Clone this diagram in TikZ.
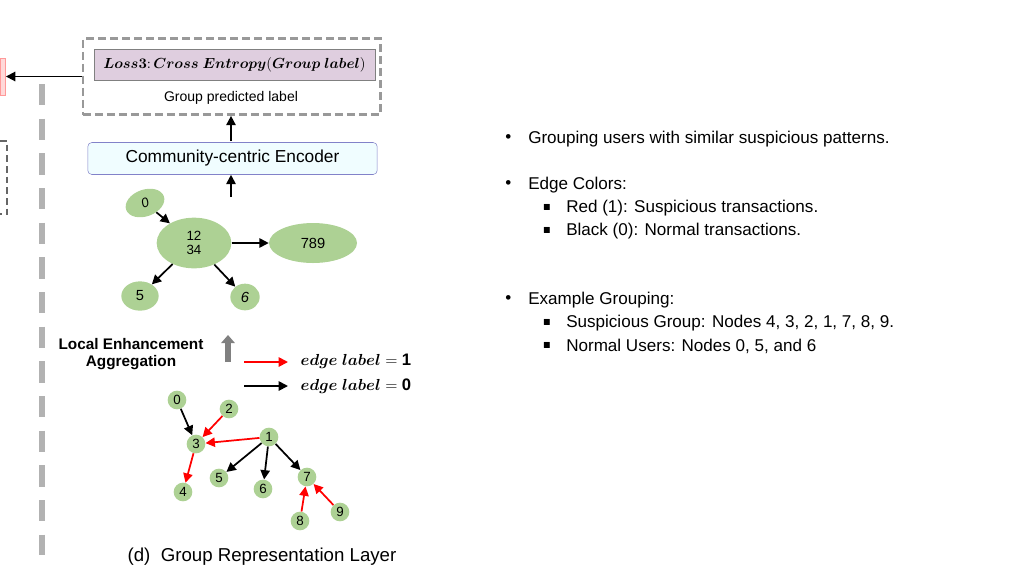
\documentclass[tikz,border=0pt]{standalone}
\usepackage{amsmath,amssymb}
\usepackage{fontspec}
\setmainfont{Liberation Sans}
\usetikzlibrary{arrows.meta,shapes.geometric}
\begin{document}
\begin{tikzpicture}[x=0.75pt,y=-0.75pt,
  ell/.style={ellipse,fill=green!45!lime!40!gray!60,draw=none,inner sep=0pt,font=\fontsize{10}{11}\selectfont},
  sn/.style={circle,fill=green!45!lime!40!gray!60,minimum size=14pt,inner sep=0pt,font=\fontsize{10}{10}\selectfont},
  ar/.style={-{Triangle[length=7pt,width=7pt]},line width=1.3pt},
  rar/.style={ar,red},
  txt/.style={anchor=west,font=\fontsize{12.8}{14}\selectfont,inner sep=0pt}]
\useasboundingbox (0,0) rectangle (1024,576);
% left remnants
\node[draw=red!40,fill=red!15,minimum width=4pt,minimum height=28pt,inner sep=0pt] (pk) at (3,76.5) {};
\draw[gray!60,line width=4pt,dash pattern=on 16pt off 10pt] (42,84) -- (42,555);
\draw[gray!80!black,line width=1.5pt,dash pattern=on 5pt off 3pt] (0,141) -- (7,141) -- (7,214) -- (0,214);
% top box
\node[draw=gray!80,line width=2pt,dash pattern=on 6pt off 3pt,minimum width=223pt,minimum height=57pt,inner sep=0pt] (db) at (231.5,76.5) {};
\node[draw=gray,fill=violet!15!white!88!gray,minimum width=211pt,minimum height=23pt,inner sep=0pt,font=\fontsize{11}{12}\selectfont] (loss) at (234.5,65) {$\boldsymbol{Loss3}\mathbf{:}\,\boldsymbol{Cross\ Entropy}\mathbf{(}\boldsymbol{Group\ label}\mathbf{)}$};
\node[font=\fontsize{10.5}{12}\selectfont] (gpl) at (231,98) {Group predicted label};
\draw[ar] (db.west) -- (pk.east);
\node[draw=blue!40!gray!70,fill=blue!10!cyan!6,rounded corners=3pt,minimum width=217pt,minimum height=24pt,inner sep=0pt,font=\fontsize{13}{14}\selectfont] (enc) at (232.5,158.5) {Community-centric Encoder};
\coordinate (e0) at (231,197);
\coordinate (e1) at (231,141);
\draw[ar] (e1) -- (e1 |- db.south);
\draw[ar] (e0) -- (e0 |- enc.south);
% community graph
\node[ell,minimum width=30pt,minimum height=20pt,rotate=20] (c0) at (145,203) {\itshape 0};
\node[ell,minimum width=56pt,minimum height=38pt,align=center] (c1) at (194,243) {12\\34};
\node[ell,minimum width=66pt,minimum height=30pt,font=\fontsize{11}{12}\selectfont] (c7) at (313,243) {789};
\node[ell,minimum width=28pt,minimum height=22pt,font=\fontsize{11}{12}\selectfont] (c5) at (140,296) {5};
\node[ell,minimum width=22pt,minimum height=20pt,font=\fontsize{11}{12}\selectfont] (c6) at (245,297) {\itshape 6};
\draw[ar] (c0) -- (c1);
\draw[ar] (c1) -- (c7);
\draw[ar] (c1) -- (c5);
\draw[ar] (c1) -- (c6);
% legend
\node[align=center,font=\bfseries\fontsize{11.5}{13}\selectfont] (lea) at (131,354) {Local Enhancement\\Aggregation};
\coordinate (ga) at (228,362); \coordinate (gb) at (228,335);
\draw[-{Triangle[length=6pt,width=10pt]},line width=5pt,gray] (ga) -- (gb);
\coordinate (l1a) at (244,362); \coordinate (l1b) at (288,362);
\coordinate (l0a) at (244,386); \coordinate (l0b) at (288,386);
\draw[rar] (l1a) -- (l1b);
\draw[ar] (l0a) -- (l0b);
\node[anchor=west,font=\fontsize{12.5}{14}\selectfont] (t1) at (296,361) {$\boldsymbol{edge\ label}=\mathbf{1}$};
\node[anchor=west,font=\fontsize{12.5}{14}\selectfont] (t0) at (296,386) {$\boldsymbol{edge\ label}=\mathbf{0}$};
% small graph
\node[sn] (n0) at (177,400) {0};
\node[sn] (n2) at (229,409) {2};
\node[sn] (n3) at (196,444) {3};
\node[sn] (n1) at (269,437) {1};
\node[sn] (n5) at (219,478) {5};
\node[sn] (n6) at (263,489) {6};
\node[sn] (n7) at (307,477) {7};
\node[sn] (n4) at (183,492) {4};
\node[sn] (n8) at (300,521) {8};
\node[sn] (n9) at (340,512) {9};
\draw[ar] (n0) -- (n3);
\draw[rar] (n2) -- (n3);
\draw[rar] (n1) -- (n3);
\draw[rar] (n3) -- (n4);
\draw[ar] (n1) -- (n5);
\draw[ar] (n1) -- (n6);
\draw[ar] (n1) -- (n7);
\draw[rar] (n8) -- (n7);
\draw[rar] (n9) -- (n7);
\node[font=\fontsize{14}{15}\selectfont] (cap) at (262,557) {(d)\ \ Group Representation Layer};
% right text
\node[txt] at (505,139) {•};
\node[txt] at (528,139) {Grouping users with similar suspicious patterns.};
\node[txt] at (505,185) {•};
\node[txt] at (528,185) {Edge Colors:};
\node[txt,font=\fontsize{6}{8}\selectfont] at (543,208) {$\blacksquare$};
\node[txt] at (566,208) {Red (1): Suspicious transactions.};
\node[txt,font=\fontsize{6}{8}\selectfont] at (543,231) {$\blacksquare$};
\node[txt] at (566,231) {Black (0): Normal transactions.};
\node[txt] at (505,300) {•};
\node[txt] at (528,300) {Example Grouping:};
\node[txt,font=\fontsize{6}{8}\selectfont] at (543,323) {$\blacksquare$};
\node[txt] at (566,323) {Suspicious Group: Nodes 4, 3, 2, 1, 7, 8, 9.};
\node[txt,font=\fontsize{6}{8}\selectfont] at (543,346) {$\blacksquare$};
\node[txt] at (566,346) {Normal Users: Nodes 0, 5, and 6};
\end{tikzpicture}
\end{document}
